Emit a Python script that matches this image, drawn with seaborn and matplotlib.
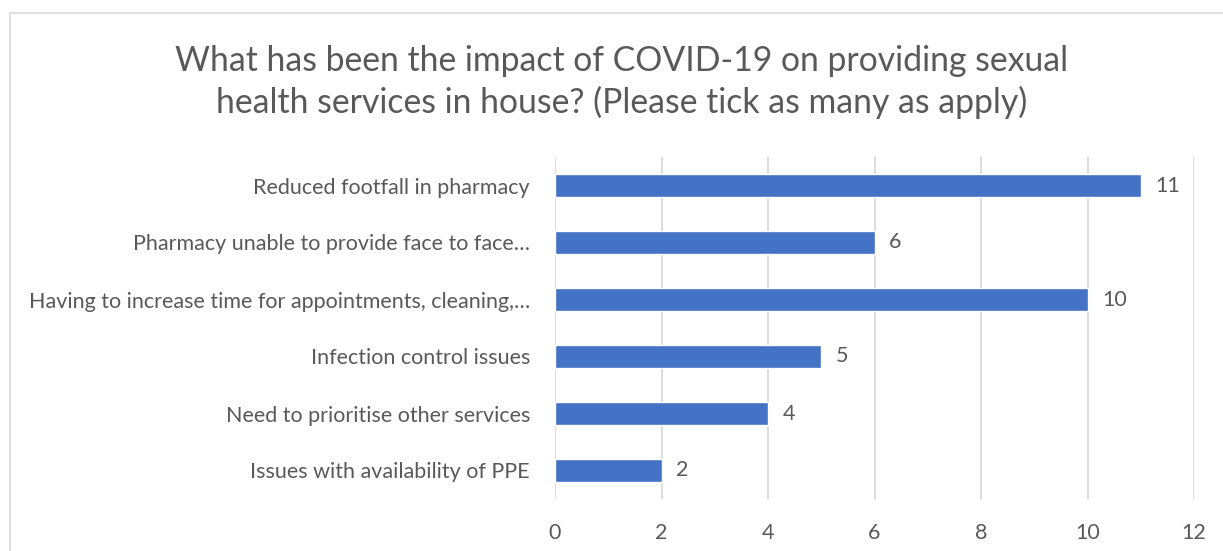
import matplotlib
matplotlib.use("Agg")
import matplotlib.pyplot as plt
import seaborn as sns
import pandas as pd
from matplotlib.patches import Rectangle

categories = [
    "Reduced footfall in pharmacy",
    "Pharmacy unable to provide face to face…",
    "Having to increase time for appointments, cleaning,…",
    "Infection control issues",
    "Need to prioritise other services",
    "Issues with availability of PPE",
]
counts = [11, 6, 10, 5, 4, 2]
x_ticks = [0, 2, 4, 6, 8, 10, 12]

title = ("What has been the impact of COVID-19 on providing sexual\n"
         "health services in house? (Please tick as many as apply)")

sns.set_theme(style="white")
plt.rcParams["font.family"] = ["Lato", "DejaVu Sans"]

TEXT = "#595959"
BAR = "#4472C4"
GRID = "#D9D9D9"
FS = 15.5

df = pd.DataFrame({"category": categories, "count": counts})

fig = plt.figure(figsize=(12.23, 5.51), dpi=100)
ax = fig.add_axes([555 / 1223, 1 - 499 / 551, (1194 - 555) / 1223, (499 - 157) / 551])

sns.barplot(data=df, x="count", y="category", color=BAR, width=0.39,
            saturation=1, ax=ax, order=categories)

ax.set_xlim(0, 12)
ax.set_ylim(5.5, -0.5)
ax.set_xticks(x_ticks)
ax.set_xticklabels([str(t) for t in x_ticks])
ax.grid(axis="x", color=GRID, linewidth=1.3)
ax.set_axisbelow(True)
for s in ax.spines.values():
    s.set_visible(False)
ax.tick_params(axis="x", length=0, pad=17, labelsize=FS, labelcolor=TEXT)
ax.tick_params(axis="y", length=0, pad=18, labelsize=FS, labelcolor=TEXT)
ax.set_xlabel("")
ax.set_ylabel("")

for i, v in enumerate(counts):
    ax.text(v + 0.27, i, str(v), va="center", ha="left", fontsize=FS, color=TEXT)

fig.text(622 / 1223, 1 - 82 / 551, title, ha="center", va="center",
         fontsize=24.3, color=TEXT, linespacing=1.3)

fig.patches.append(Rectangle((10 / 1223, -0.1), 1.2, 1.1 - 13 / 551,
                             transform=fig.transFigure, fill=False,
                             edgecolor="#D9D9D9", linewidth=1.2))

fig.savefig("out.png", dpi=100)
